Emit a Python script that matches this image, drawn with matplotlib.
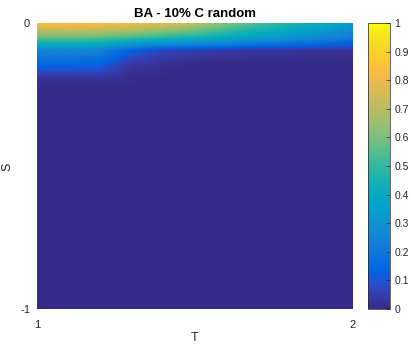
import numpy as np
import matplotlib
matplotlib.use("Agg")
import matplotlib.pyplot as plt
from matplotlib.colors import LinearSegmentedColormap

plt.rcParams['font.family'] = ['Liberation Sans', 'DejaVu Sans']

# Grid values
T_vals = [1.0, 1.1, 1.2, 1.3, 1.4, 1.5, 1.6, 1.7, 1.8, 1.9, 2.0]
S_vals = [0.0, -0.05, -0.1, -0.15, -0.2, -0.25, -1.0]
Z_rows = [
    [0.86, 0.88, 0.87, 0.84, 0.80, 0.73, 0.63, 0.55, 0.48, 0.42, 0.33],
    [0.60, 0.60, 0.58, 0.55, 0.51, 0.47, 0.42, 0.37, 0.32, 0.28, 0.22],
    [0.24, 0.25, 0.24, 0.12, 0.06, 0.05, 0.04, 0.03, 0.03, 0.02, 0.02],
    [0.13, 0.13, 0.12, 0.03, 0.02, 0.0, 0.0, 0.0, 0.0, 0.0, 0.0],
    [0.02, 0.02, 0.02, 0.01, 0.0, 0.0, 0.0, 0.0, 0.0, 0.0, 0.0],
    [0.0, 0.0, 0.0, 0.0, 0.0, 0.0, 0.0, 0.0, 0.0, 0.0, 0.0],
    [0.0, 0.0, 0.0, 0.0, 0.0, 0.0, 0.0, 0.0, 0.0, 0.0, 0.0],
]
title = "BA - 10% C random"
x_ticks = [1, 2]
y_ticks = [0, -1]
cbar_ticks = [0, 0.1, 0.2, 0.3, 0.4, 0.5, 0.6, 0.7, 0.8, 0.9, 1]

parula_data = [
 [0.2081,0.1663,0.5292],[0.2116,0.1898,0.5777],[0.2123,0.2138,0.6270],[0.2081,0.2386,0.6771],
 [0.1959,0.2645,0.7279],[0.1707,0.2919,0.7792],[0.1253,0.3242,0.8303],[0.0591,0.3598,0.8683],
 [0.0117,0.3875,0.8820],[0.0060,0.4086,0.8828],[0.0165,0.4266,0.8786],[0.0329,0.4430,0.8720],
 [0.0498,0.4586,0.8641],[0.0629,0.4737,0.8554],[0.0723,0.4887,0.8467],[0.0779,0.5040,0.8384],
 [0.0793,0.5200,0.8312],[0.0749,0.5375,0.8263],[0.0641,0.5570,0.8240],[0.0488,0.5772,0.8228],
 [0.0343,0.5966,0.8199],[0.0265,0.6137,0.8135],[0.0239,0.6287,0.8038],[0.0231,0.6418,0.7913],
 [0.0228,0.6535,0.7768],[0.0267,0.6642,0.7607],[0.0384,0.6743,0.7436],[0.0590,0.6838,0.7254],
 [0.0843,0.6928,0.7062],[0.1133,0.7015,0.6859],[0.1453,0.7098,0.6646],[0.1801,0.7177,0.6424],
 [0.2178,0.7250,0.6193],[0.2586,0.7317,0.5954],[0.3022,0.7376,0.5712],[0.3482,0.7424,0.5473],
 [0.3953,0.7459,0.5244],[0.4420,0.7481,0.5033],[0.4871,0.7491,0.4840],[0.5300,0.7491,0.4661],
 [0.5709,0.7485,0.4494],[0.6099,0.7473,0.4337],[0.6473,0.7456,0.4188],[0.6834,0.7435,0.4044],
 [0.7184,0.7411,0.3905],[0.7525,0.7384,0.3768],[0.7858,0.7356,0.3633],[0.8185,0.7327,0.3498],
 [0.8507,0.7299,0.3360],[0.8824,0.7274,0.3217],[0.9139,0.7258,0.3063],[0.9450,0.7261,0.2886],
 [0.9739,0.7314,0.2666],[0.9938,0.7455,0.2403],[0.9990,0.7653,0.2164],[0.9955,0.7861,0.1967],
 [0.9880,0.8066,0.1794],[0.9789,0.8271,0.1633],[0.9697,0.8481,0.1475],[0.9626,0.8705,0.1309],
 [0.9589,0.8949,0.1132],[0.9598,0.9218,0.0948],[0.9661,0.9514,0.0755],[0.9763,0.9831,0.0538]]
parula = LinearSegmentedColormap.from_list("parula", parula_data)

fig = plt.figure(figsize=(4.11, 3.47), dpi=100)
ax = fig.add_axes([37/411, 1 - 309/347, 316/411, 286/347])
cax = fig.add_axes([368/411, 1 - 309/347, 22/411, 286/347])

# bilinear interpolation of the values (like MATLAB 'shading interp')
Tv = np.array(T_vals)
Sv = np.array(S_vals)
Z = np.array(Z_rows)
Tf = np.linspace(Tv.min(), Tv.max(), 401)
Sf = np.linspace(Sv.max(), Sv.min(), 801)
Zs = np.array([np.interp(-Sf, -Sv, Z[:, j]) for j in range(len(Tv))]).T
Zf = np.array([np.interp(Tf, Tv, row) for row in Zs])
m = ax.pcolormesh(Tf, Sf, Zf, shading='gouraud', cmap=parula, vmin=0, vmax=1,
                  rasterized=True)
ax.set_xlim(1, 2)
ax.set_ylim(-1, 0)
ax.set_xticks(x_ticks)
ax.set_yticks(y_ticks)
ax.set_xticklabels([str(t) for t in x_ticks])
ax.set_yticklabels([str(t) for t in y_ticks])
ax.tick_params(axis='x', direction='in', length=0, labelsize=8, colors='#262626', pad=8)
ax.tick_params(axis='y', direction='in', length=0, labelsize=8, colors='#262626', pad=5)
for sp in ax.spines.values():
    sp.set_visible(False)
ax.set_xlabel("T", fontsize=9, color='#262626')
ax.set_ylabel("S", fontsize=9, color='#262626')
ax.xaxis.set_label_coords(0.5, -(332 - 309) / 286)
ax.yaxis.set_label_coords(-(37 - 13) / 316, (309 - 167) / 286)
ax.set_title(title, fontsize=9.5, fontweight='bold', color='#000000', pad=4)

cb = fig.colorbar(m, cax=cax, ticks=cbar_ticks)
cb.ax.set_yticklabels([str(t) for t in cbar_ticks])
cb.ax.tick_params(direction='in', length=3, labelsize=7.5, colors='#262626', width=0.5, pad=3)
cb.outline.set_linewidth(0.5)
cb.outline.set_edgecolor('#262626')

fig.savefig("out.png", dpi=100)
